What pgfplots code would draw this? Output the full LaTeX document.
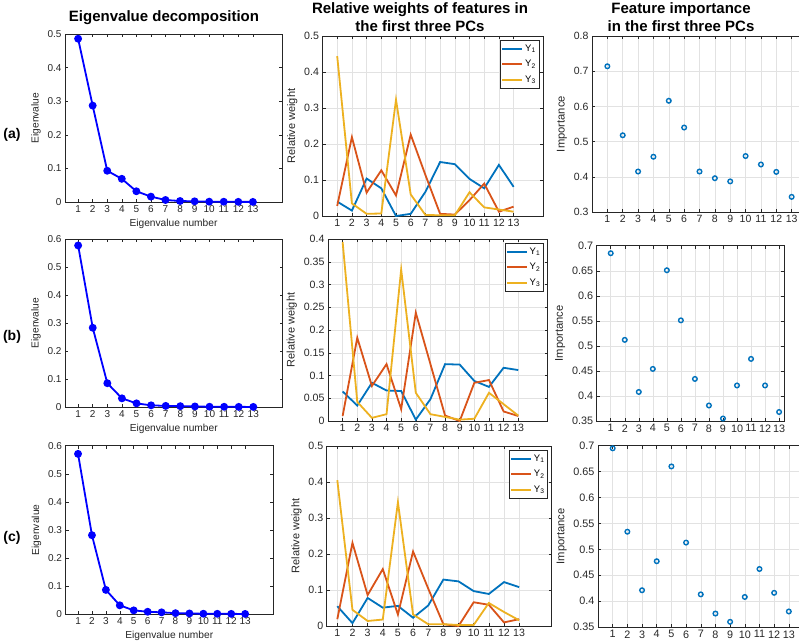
\documentclass[border=0pt]{standalone}
\usepackage{fontspec}
\setmainfont{Liberation Sans}
\usepackage{pgfplots}
\pgfplotsset{compat=1.18}
\definecolor{mblue}{HTML}{0072BD}
\definecolor{mred}{HTML}{D95319}
\definecolor{myellow}{HTML}{EDB120}
\definecolor{maxis}{HTML}{262626}
\definecolor{mgrid}{HTML}{E2E2E2}
\pgfplotsset{
  mbase/.style={
    scale only axis, clip=false,
    axis line style={draw=maxis, line width=0.5pt},
    every tick/.style={draw=maxis, line width=0.5pt},
    tick align=inside, major tick length=3pt,
    xtick={1,2,...,13}, scaled y ticks=false,
    yticklabel style={/pgf/number format/fixed, /pgf/number format/precision=2},
    /pgf/number format/assume math mode=true,
    tick label style={text=maxis},
    label style={text=maxis},
  },
  eig/.style={mbase, xmin=0.1, xmax=15, ymin=0,
    tick label style={font=\fontsize{10}{11}\selectfont},
    label style={font=\fontsize{10.2}{12}\selectfont},
    ylabel={Eigenvalue}, xlabel={Eigenvalue number},
    ytick distance=0.1},
  eigplot/.style={color=blue, line width=1.8pt, mark=*, mark size=3pt, mark options={fill=blue}},
  rel/.style={mbase, grid=major, major grid style={draw=mgrid, line width=0.5pt},
    tick label style={font=\fontsize{10.6}{12}\selectfont},
    label style={font=\fontsize{11}{12}\selectfont},
    ylabel={Relative weight}, ymin=0,
    legend style={at={(1,1)}, anchor=north east, xshift=-4pt, yshift=-4pt,
      draw=maxis, line width=0.5pt, font=\fontsize{9.5}{10}\selectfont,
      inner xsep=1pt, inner ysep=2.5pt, row sep=3.5pt, cells={anchor=west}},
    legend image code/.code={\draw[#1] (0pt,0pt) -- (20pt,0pt);},
  },
  imp/.style={mbase, grid=major, major grid style={draw=mgrid, line width=0.5pt},
    tick label style={font=\fontsize{10.8}{12}\selectfont},
    label style={font=\fontsize{11.2}{12}\selectfont},
    ylabel={Importance}},
  impplot/.style={only marks, color=mblue, mark=o, mark size=2.3pt, line width=1.4pt},
}
\begin{document}
\begin{tikzpicture}
% ---------- titles and row labels ----------
\node[font=\bfseries\fontsize{15}{18}\selectfont, align=center] at (164pt,-18pt) {Eigenvalue decomposition};
\node[font=\bfseries\fontsize{15}{18}\selectfont, align=center] at (420pt,-17pt) {Relative weights of features in\\the first three PCs};
\node[font=\bfseries\fontsize{15}{18}\selectfont, align=center] at (681pt,-17pt) {Feature importance\\in the first three PCs};
\node[font=\bfseries\fontsize{14}{16}\selectfont] at (12pt,-135pt) {(a)};
\node[font=\bfseries\fontsize{14}{16}\selectfont] at (12pt,-337pt) {(b)};
\node[font=\bfseries\fontsize{14}{16}\selectfont] at (12pt,-538pt) {(c)};

% ================= Row (a) =================
\begin{axis}[eig, at={(65pt,-202pt)}, anchor=south west, width=217pt, height=168pt, ymax=0.5]
\addplot[eigplot] coordinates {(1,0.486)(2,0.287)(3,0.093)(4,0.069)(5,0.032)(6,0.016)(7,0.006)(8,0.003)(9,0.002)(10,0.001)(11,0.0008)(12,0.0005)(13,0.0003)};
\end{axis}

\begin{axis}[rel, at={(322.5pt,-216pt)}, anchor=south west, width=220.5pt, height=180pt, xmin=0, xmax=15, ymax=0.5, ytick distance=0.1]
\addplot[mblue, line width=1.8pt] coordinates {(1,0.040)(2,0.015)(3,0.104)(4,0.077)(5,0.000)(6,0.006)(7,0.067)(8,0.150)(9,0.144)(10,0.103)(11,0.077)(12,0.142)(13,0.081)};
\addplot[mred, line width=1.8pt] coordinates {(1,0.028)(2,0.219)(3,0.065)(4,0.127)(5,0.057)(6,0.226)(7,0.114)(8,0.006)(9,0.004)(10,0.044)(11,0.090)(12,0.012)(13,0.026)};
\addplot[myellow, line width=1.8pt] coordinates {(1,0.444)(2,0.035)(3,0.006)(4,0.007)(5,0.323)(6,0.060)(7,0.003)(8,0.002)(9,0.002)(10,0.066)(11,0.024)(12,0.018)(13,0.012)};
\legend{Y\textsubscript{1},Y\textsubscript{2},Y\textsubscript{3}}
\end{axis}

\begin{axis}[imp, at={(592pt,-212pt)}, anchor=south west, width=215pt, height=176pt, xmin=0, xmax=14, ymin=0.3, ymax=0.8, ytick distance=0.1,
  tick label style={font=\fontsize{10.5}{12}\selectfont}]
\addplot[impplot] coordinates {(1,0.714)(2,0.518)(3,0.415)(4,0.457)(5,0.616)(6,0.540)(7,0.415)(8,0.396)(9,0.387)(10,0.459)(11,0.435)(12,0.414)(13,0.343)};
\end{axis}

% ================= Row (b) =================
\begin{axis}[eig, at={(65pt,-407pt)}, anchor=south west, width=217.5pt, height=168pt, ymax=0.6]
\addplot[eigplot] coordinates {(1,0.577)(2,0.283)(3,0.085)(4,0.031)(5,0.013)(6,0.006)(7,0.004)(8,0.003)(9,0.002)(10,0.001)(11,0.0008)(12,0.0005)(13,0.0003)};
\end{axis}

\begin{axis}[rel, at={(328pt,-421pt)}, anchor=south west, width=219.5pt, height=182pt, xmin=0, xmax=15, ymax=0.4, ytick distance=0.05]
\addplot[mblue, line width=1.8pt] coordinates {(1,0.065)(2,0.034)(3,0.084)(4,0.067)(5,0.066)(6,0.003)(7,0.048)(8,0.125)(9,0.124)(10,0.088)(11,0.075)(12,0.117)(13,0.112)};
\addplot[mred, line width=1.8pt] coordinates {(1,0.011)(2,0.183)(3,0.077)(4,0.125)(5,0.026)(6,0.238)(7,0.125)(8,0.012)(9,0.000)(10,0.084)(11,0.090)(12,0.021)(13,0.011)};
\addplot[myellow, line width=1.8pt] coordinates {(1,0.393)(2,0.042)(3,0.007)(4,0.015)(5,0.333)(6,0.062)(7,0.015)(8,0.009)(9,0.003)(10,0.005)(11,0.062)(12,0.037)(13,0.012)};
\legend{Y\textsubscript{1},Y\textsubscript{2},Y\textsubscript{3}}
\end{axis}

\begin{axis}[imp, at={(596.7pt,-421pt)}, anchor=south west, width=187.3pt, height=175.3pt, xmin=0, xmax=13.35, ymin=0.35, ymax=0.7, ytick distance=0.05]
\addplot[impplot] coordinates {(1,0.685)(2,0.512)(3,0.408)(4,0.454)(5,0.651)(6,0.551)(7,0.434)(8,0.381)(9,0.355)(10,0.421)(11,0.474)(12,0.421)(13,0.368)};
\end{axis}

% ================= Row (c) =================
\begin{axis}[eig, at={(65.5pt,-614pt)}, anchor=south west, width=207.5pt, height=168.3pt, ymax=0.6]
\addplot[eigplot] coordinates {(1,0.571)(2,0.281)(3,0.086)(4,0.031)(5,0.013)(6,0.008)(7,0.006)(8,0.003)(9,0.002)(10,0.001)(11,0.0008)(12,0.0005)(13,0.0003)};
\end{axis}

\begin{axis}[rel, at={(326.7pt,-626pt)}, anchor=south west, width=225pt, height=180pt, xmin=0.3, xmax=15.15, ymax=0.5, ytick distance=0.1]
\addplot[mblue, line width=1.8pt] coordinates {(1,0.055)(2,0.008)(3,0.078)(4,0.051)(5,0.056)(6,0.023)(7,0.057)(8,0.129)(9,0.124)(10,0.097)(11,0.089)(12,0.122)(13,0.108)};
\addplot[mred, line width=1.8pt] coordinates {(1,0.019)(2,0.231)(3,0.086)(4,0.158)(5,0.032)(6,0.207)(7,0.104)(8,0.005)(9,0.000)(10,0.066)(11,0.059)(12,0.010)(13,0.019)};
\addplot[myellow, line width=1.8pt] coordinates {(1,0.405)(2,0.045)(3,0.014)(4,0.018)(5,0.344)(6,0.032)(7,0.005)(8,0.005)(9,0.003)(10,0.003)(11,0.064)(12,0.039)(13,0.016)};
\legend{Y\textsubscript{1},Y\textsubscript{2},Y\textsubscript{3}}
\end{axis}

\begin{axis}[imp, at={(598pt,-627pt)}, anchor=south west, width=205.5pt, height=181.3pt, xmin=0, xmax=14, ymin=0.35, ymax=0.7, ytick distance=0.05]
\addplot[impplot] coordinates {(1,0.695)(2,0.534)(3,0.421)(4,0.477)(5,0.660)(6,0.513)(7,0.413)(8,0.376)(9,0.360)(10,0.408)(11,0.462)(12,0.416)(13,0.380)};
\end{axis}

\pgfresetboundingbox
\useasboundingbox (0pt,0pt) rectangle (799pt,-641pt);
\end{tikzpicture}
\end{document}
